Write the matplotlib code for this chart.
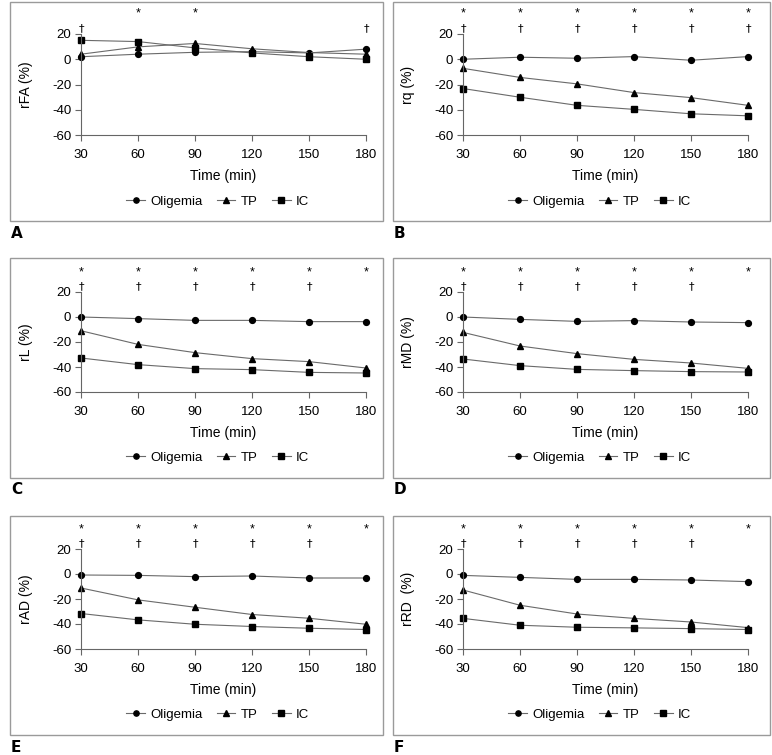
#!/usr/bin/env python3
# six-panel line chart: relative diffusion parameters over time
import matplotlib
matplotlib.use("Agg")
import matplotlib.pyplot as plt
from matplotlib.patches import Rectangle

plt.rcParams["font.family"] = ["Liberation Sans", "DejaVu Sans"]
plt.rcParams["font.size"] = 9.5

times = [30, 60, 90, 120, 150, 180]
groups = ["Oligemia", "TP", "IC"]
markers = ["o", "^", "s"]
letters = ["A", "B", "C", "D", "E", "F"]
ylabels = ["rFA (%)", "rq (%)", "rL (%)", "rMD (%)", "rAD (%)", "rRD  (%)"]

# values, one list per group
rFA = [[2, 4, 5.5, 6, 5, 8], [4, 9.8, 12.5, 8.3, 5.3, 4], [15, 14, 9, 5, 2, 0]]
rq = [[0, 1.6, 0.8, 2.1, -0.8, 2.1], [-7.2, -14.4, -19.5, -26.4, -30.4, -36.5],
      [-23.2, -30.1, -36.5, -39.7, -43.2, -44.8]]
rL = [[0, -1.3, -2.7, -2.7, -3.7, -3.7], [-11, -21.9, -28.5, -33.3, -35.7, -40.8],
      [-32.8, -38.1, -41.3, -42.1, -44.3, -44.8]]
rMD = [[0, -1.9, -3.5, -2.9, -4, -4.5], [-12.3, -23.2, -29.3, -33.9, -36.8, -41.1],
       [-33.6, -38.9, -41.9, -42.9, -43.7, -44]]
rAD = [[-0.8, -1.1, -2.1, -1.6, -3.2, -3.2], [-11.2, -20.7, -26.6, -32.4, -35.4, -40.2],
       [-31.6, -36.7, -40.2, -42, -43.4, -44.4]]
rRD = [[-1.1, -2.7, -4.3, -4.3, -4.8, -6.1], [-12.8, -25, -32, -35.5, -38.4, -42.9],
       [-35.5, -41, -42.6, -43.1, -43.7, -44.4]]
panels = [rFA, rq, rL, rMD, rAD, rRD]

# significance marks (time points)
star_times = [[60, 90], times, times, times, times, times]
dagger_times = [[30, 180], times, times[:5], times[:5], times[:5], times[:5]]

W, H = 772, 755
fig = plt.figure(figsize=(W / 100, H / 100), dpi=100)

col_box = [(10, 383), (393, 770)]
col_ax = [(81, 366), (463, 748)]
row_box = [(2, 221), (258, 478), (516, 735)]
row_ax = [(34, 135), (292, 392), (549, 649)]

for i, data in enumerate(panels):
    r, c = divmod(i, 2)
    bx0, bx1 = col_box[c]
    by0, by1 = row_box[r]
    fig.patches.append(Rectangle((bx0 / W, 1 - by1 / H), (bx1 - bx0) / W, (by1 - by0) / H,
                                 transform=fig.transFigure, fill=False,
                                 edgecolor="#9a9a9a", linewidth=1.0))
    fig.text((bx0 + 1) / W, 1 - (by1 + 12) / H, letters[i], fontsize=11,
             fontweight="bold", family="DejaVu Sans", va="center", ha="left")

    ax0, ax1 = col_ax[c]
    ay0, ay1 = row_ax[r]
    ax = fig.add_axes([ax0 / W, 1 - ay1 / H, (ax1 - ax0) / W, (ay1 - ay0) / H])
    for g, vals in enumerate(data):
        ax.plot(times, vals, color="#6a6a6a", linewidth=0.8, marker=markers[g],
                markersize=4.2, markerfacecolor="black", markeredgecolor="black",
                label=groups[g], clip_on=False)
    ax.set_xlim(30, 180)
    ax.set_ylim(-60, 20)
    ax.set_xticks(times)
    ax.set_yticks([20, 0, -20, -40, -60])
    ax.set_yticklabels(["20", "0", "-20", "-40", "-60"])
    for s in ["top", "right"]:
        ax.spines[s].set_visible(False)
    for s in ["left", "bottom"]:
        ax.spines[s].set_color("#666666")
        ax.spines[s].set_linewidth(0.8)
    ax.tick_params(length=4, width=0.8, color="#666666", labelsize=9.5)
    ax.tick_params(axis="x", pad=6)
    ax.tick_params(axis="y", pad=3)
    ax.patch.set_alpha(0)
    ax.set_xlabel("Time (min)", fontsize=10, labelpad=6)
    ax.set_ylabel(ylabels[i], fontsize=10, labelpad=14)

    for t in star_times[i]:
        ax.text(t, 36, "*", ha="center", va="center", fontsize=9, clip_on=False)
    for t in dagger_times[i]:
        ax.text(t, 25, "\u2020", ha="center", va="center", fontsize=8,
                family="DejaVu Sans", clip_on=False)

    ax.legend(loc="upper center", bbox_to_anchor=(0.48, -0.48), ncol=3, frameon=False,
              fontsize=9.5, handlelength=1.4, handletextpad=0.4, columnspacing=1.1,
              markerscale=0.9)

fig.savefig("out.png", dpi=100)
